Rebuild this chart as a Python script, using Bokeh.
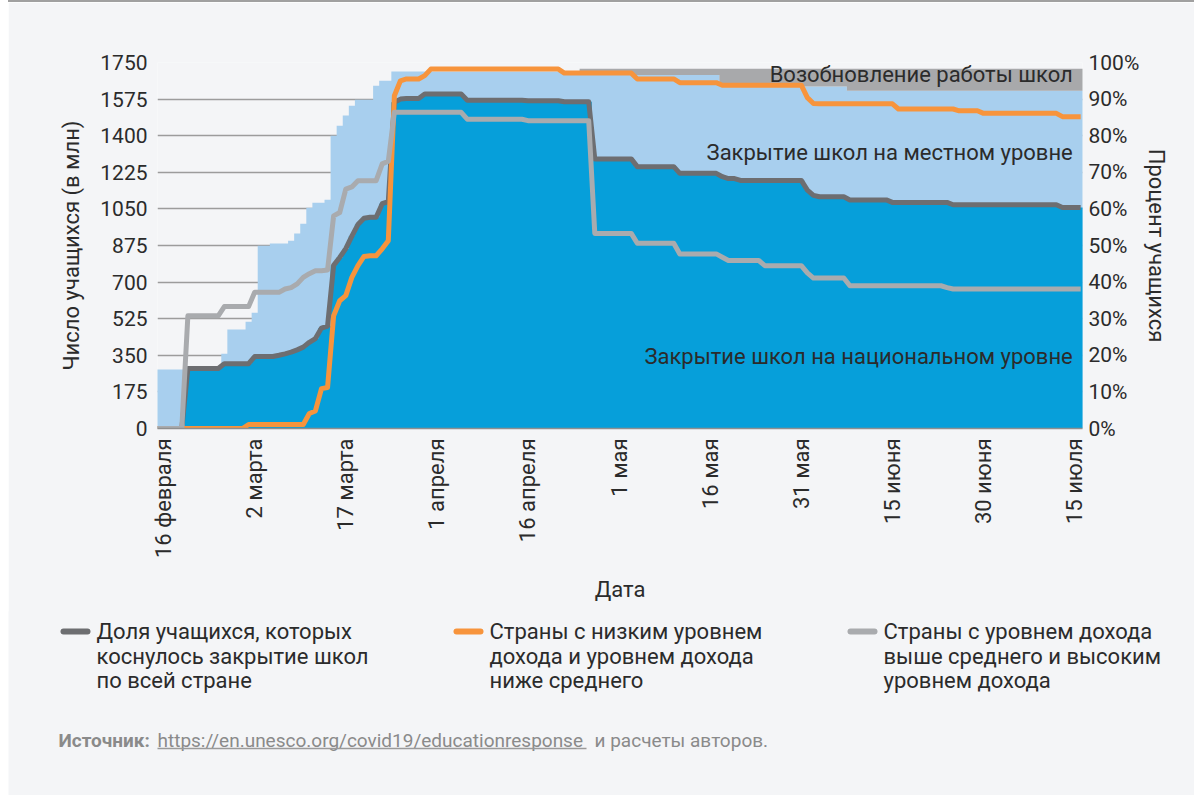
import numpy as np
from bokeh.plotting import figure
from bokeh.models import Range1d, LinearAxis, FixedTicker, Label, Div
from bokeh.core.properties import value
from bokeh.embed import file_html
from bokeh.resources import INLINE

# ---------------- data ----------------
tick_days = [0, 15, 30, 45, 60, 75, 90, 105, 120, 135, 150]
tick_labels = ["16 февраля", "2 марта", "17 марта", "1 апреля", "16 апреля", "1 мая",
               "16 мая", "31 мая", "15 июня", "30 июня", "15 июля"]
mln_ticks = [0, 175, 350, 525, 700, 875, 1050, 1225, 1400, 1575, 1750]
pct_ticks = [0, 10, 20, 30, 40, 50, 60, 70, 80, 90, 100]

first_day, last_day = -1, 151   # days after 16 February

# change points: value holds from the given day until the next change point
national_days = [-1, 4, 10, 15, 19, 20, 21, 22, 23, 24, 25, 26, 27, 28, 29, 30, 31, 32, 33, 34,
                 36, 37, 38, 39, 40, 43, 50, 60, 66, 71, 78, 85, 92, 93, 95, 106, 107, 108,
                 113, 120, 130, 148]
national_mln = [0, 287, 310, 344, 350, 357, 365, 376, 389, 412, 430, 480, 490, 780, 818, 860, 920,
                975, 1005, 1010, 1075, 1085, 1560, 1575, 1578, 1599, 1570, 1567, 1562, 1289, 1252,
                1220, 1204, 1195, 1186, 1140, 1115, 1108, 1093, 1081, 1070, 1057]

total_days = [-1, 4, 10, 11, 14, 15, 16, 18, 21, 22, 23, 24, 25, 27, 28, 29, 30, 31, 32, 35, 36,
              38, 69, 78, 92, 105, 113]
total_mln = [282, 287, 358, 473, 511, 554, 874, 884, 898, 932, 979, 1056, 1080, 1094, 1400, 1448,
             1496, 1543, 1572, 1639, 1663, 1707, 1700, 1690, 1645, 1635, 1615]

reopen_days = [-1, 69, 78, 92, 105, 113]
reopen_mln = [0, 20, 30, 75, 85, 105]

low_days = [-1, 14, 24, 25, 26, 27, 28, 29, 30, 31, 32, 33, 34, 36, 37, 38, 39, 40, 43, 44, 66,
            78, 85, 92, 106, 107, 108, 121, 131, 135, 148]
low_pct = [0, 1.1, 4.1, 4.8, 10.9, 11.2, 30.8, 34.9, 36.3, 41.3, 44.5, 47.0, 47.2, 49.1, 51.3,
           90.9, 95.0, 95.5, 96.4, 98.2, 97.1, 95.5, 94.5, 93.8, 90.4, 88.8, 88.7, 87.3, 86.8,
           86.1, 85.2]

high_days = [-1, 4, 10, 15, 20, 21, 22, 23, 24, 25, 27, 28, 29, 30, 31, 32, 36, 37, 38, 50, 60,
             71, 78, 85, 92, 93, 99, 106, 107, 113, 129, 130]
high_pct = [0, 30.8, 33.3, 37.2, 38.1, 38.5, 39.5, 41.3, 42.3, 43.1, 43.3, 58.1, 59.0, 65.4,
            66.0, 67.7, 72.3, 73.0, 86.4, 84.5, 84.1, 53.3, 50.6, 47.7, 46.8, 45.9, 44.5, 42.5,
            41.1, 39.0, 38.5, 38.1]

legend_texts = [
    ["Доля учащихся, которых", "коснулось закрытие школ", "по всей стране"],
    ["Страны с низким уровнем", "дохода и уровнем дохода", "ниже среднего"],
    ["Страны с уровнем дохода", "выше среднего и высоким", "уровнем дохода"],
]
source_parts = ["Источник:", "https://en.unesco.org/covid19/educationresponse", "и расчеты авторов."]

# ---------------- helpers ----------------
def decode(cp_days, cp_vals):
    days = np.arange(first_day, last_day + 1)
    idx = np.searchsorted(np.asarray(cp_days), days, side="right") - 1
    return days, np.asarray(cp_vals, dtype=float)[idx]

def steps(days, vals):
    xs = np.column_stack([days - 0.5, days + 0.5]).ravel()
    ys = np.repeat(vals, 2)
    return xs, ys

days, national = decode(national_days, national_mln)
_, total = decode(total_days, total_mln)
_, reopen = decode(reopen_days, reopen_mln)
_, low = decode(low_days, low_pct)
_, high = decode(high_days, high_pct)

# ---------------- style ----------------
BG = "#f4f5f7"
DARK_BLUE = "#069fda"
LIGHT_BLUE = "#a8cfee"
BAND = "#a8a9ab"
C_NAT = "#6d6e71"
C_LOW = "#f7943c"
C_HIGH = "#a9abae"
TXT = "#2b2b2b"
GREY_TXT = "#8a8a8a"
FONT = "Roboto"

W = 1186
TOP_H = 610          # page y 2 .. 612
BOT_H = 184          # overlaps the chart panel by 1px
X0, X1 = -1.0, 151.3

p = figure(width=W, height=TOP_H, x_range=Range1d(X0, X1), y_range=Range1d(0, 1750),
           output_backend="svg", toolbar_location=None,
           min_border_left=149, min_border_right=W - 149 - 925, min_border_top=60,
           min_border_bottom=TOP_H - 60 - 366,
           background_fill_color=BG, border_fill_color=BG, outline_line_color=None,
           margin=(0, 0, 0, 8))
p.extra_y_ranges = {"pct": Range1d(0, 100)}

# areas
xs, ys_tot = steps(days, total)
_, ys_nat = steps(days, national)
_, ys_re = steps(days, total + reopen)
p.varea(x=xs, y1=np.zeros_like(ys_tot), y2=ys_tot, fill_color=LIGHT_BLUE)
p.varea(x=xs, y1=np.zeros_like(ys_nat), y2=ys_nat, fill_color=DARK_BLUE)
p.varea(x=xs, y1=ys_tot, y2=ys_re, fill_color=BAND)

# lines
p.line(days, national, line_color=C_NAT, line_width=5, line_join="round")
p.line(days, low, line_color=C_LOW, line_width=5, line_join="round", y_range_name="pct")
p.line(days, high, line_color=C_HIGH, line_width=5, line_join="round", y_range_name="pct")

# axes
p.xgrid.visible = False
p.ygrid.grid_line_color = "#9c9c9c"
p.ygrid.grid_line_width = 1.3

def style_axis(ax, size):
    ax.major_tick_line_color = None
    ax.minor_tick_line_color = None
    ax.major_tick_out = 0
    ax.major_tick_in = 0
    ax.major_label_text_font = FONT
    ax.major_label_text_font_size = size
    ax.major_label_text_color = TXT
    ax.axis_label_text_font = FONT
    ax.axis_label_text_font_size = "22px"
    ax.axis_label_text_font_style = "normal"
    ax.axis_label_text_color = TXT

left = p.yaxis[0]
style_axis(left, "21px")
left.ticker = FixedTicker(ticks=mln_ticks)
left.axis_line_color = None
left.major_label_standoff = 10
left.axis_label = "Число учащихся (в млн)"
left.axis_label_standoff = 13

bottom = p.xaxis[0]
style_axis(bottom, "22px")
bottom.ticker = FixedTicker(ticks=tick_days)
bottom.major_label_overrides = {d: l for d, l in zip(tick_days, tick_labels)}
bottom.major_label_orientation = np.pi / 2
bottom.major_label_standoff = 10
bottom.axis_line_color = "#8f8f8f"
bottom.axis_line_width = 1.3
bottom.axis_label = "Дата"
bottom.axis_label_standoff = 16

right = LinearAxis(y_range_name="pct", ticker=FixedTicker(ticks=pct_ticks),
                   major_label_overrides={t: f"{t}%" for t in pct_ticks})
style_axis(right, "21px")
right.axis_line_color = None
right.major_label_standoff = 6
right.axis_label = "Процент учащихся"
right.axis_label_standoff = 2
p.add_layout(right, "right")

# in-plot labels (right aligned at the frame's right side)
for text, yv in [("Возобновление работы школ", 1695),
                 ("Закрытие школ на местном уровне", 1318),
                 ("Закрытие школ на национальном уровне", 345)]:
    p.add_layout(Label(x=149.7, y=yv, text=text, text_font=FONT, text_font_size="22px",
                       text_color=TXT, text_align="right", text_baseline="middle"))

# ---------------- legend + source panel (page pixel coordinates) ----------------
Q_TOP = 2 + TOP_H - 1
q = figure(width=W, height=BOT_H, x_range=Range1d(8, 8 + W),
           y_range=Range1d(Q_TOP + BOT_H, Q_TOP),
           output_backend="svg", toolbar_location=None, x_axis_type=None, y_axis_type=None,
           min_border=0, min_border_left=0, min_border_right=0, min_border_top=0,
           min_border_bottom=0, background_fill_color=BG, border_fill_color=BG,
           outline_line_color=None, margin=(-1, 0, 0, 8))
q.xgrid.visible = False
q.ygrid.visible = False

leg_x = [60, 453, 847]
leg_colors = [C_NAT, C_LOW, C_HIGH]
q.segment(x0=[x + 3 for x in leg_x], x1=[x + 27 for x in leg_x], y0=[631] * 3, y1=[631] * 3,
          line_color=leg_colors, line_width=6, line_cap="round")
tx, ty, tt = [], [], []
for lx, lines in zip(leg_x, legend_texts):
    for i, t in enumerate(lines):
        tx.append(lx + 36)
        ty.append(631 + i * 24.5)
        tt.append(t)
q.text(x=tx, y=ty, text=tt, text_font=value(FONT), text_font_size="22px",
       text_color=TXT, text_baseline="middle", text_align="left")

q.text(x=[58], y=[740], text=[source_parts[0]], text_font=value(FONT), text_font_size="19px",
       text_font_style="bold", text_color=GREY_TXT, text_baseline="middle")
q.text(x=[157, 594], y=[740, 740], text=source_parts[1:], text_font=value(FONT),
       text_font_size="19px", text_color=GREY_TXT, text_baseline="middle")
q.segment(x0=[157], x1=[586], y0=[748], y1=[748], line_color="#9a9a9a", line_width=1.5)

border = Div(text="", width=W, height=2, margin=(0, 0, 0, 8),
             styles={"background-color": "#a0a0a0"})

open("out.html", "w").write(file_html([border, p, q], INLINE))
